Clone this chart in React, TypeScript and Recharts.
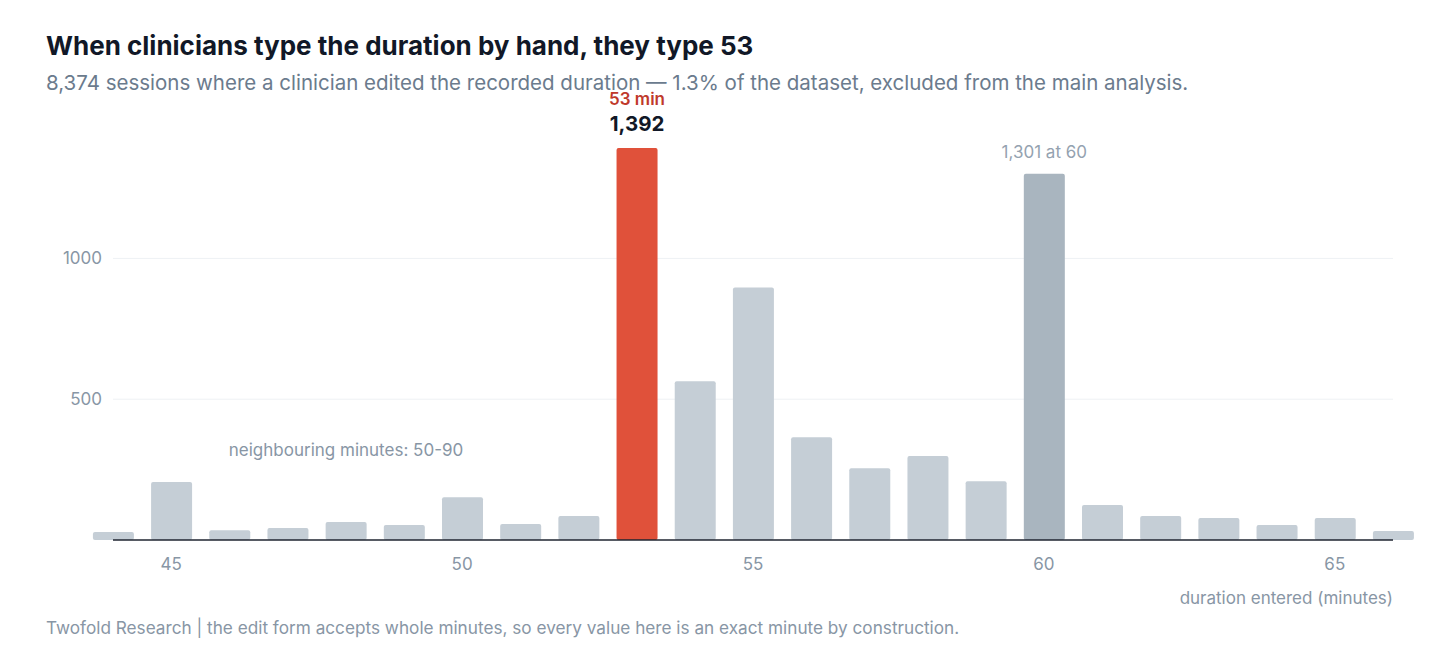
import { Bar, BarChart, CartesianGrid, Cell, XAxis, YAxis } from "recharts";

// minutes typed by hand, one bar per whole minute
const minutes = [44, 45, 46, 47, 48, 49, 50, 51, 52, 53, 54, 55, 56, 57, 58, 59, 60, 61, 62, 63, 64, 65, 66];
const sessions = [28, 206, 35, 43, 64, 53, 152, 57, 85, 1392, 564, 897, 365, 255, 298, 209, 1301, 124, 85, 78, 53, 78, 32];
const xTicks = [45, 50, 55, 60, 65];
const yTicks = [500, 1000];

const PEAK = 53;
const ROUND = 60;

const FONT = "Inter, 'Noto Sans', sans-serif";
const GREY_TEXT = "#8896a5";

const chartData = minutes.map((m, i) => ({ minute: m, count: sessions[i] }));

function barColor(m: number) {
  if (m === PEAK) return "#e0513a";
  if (m === ROUND) return "#a9b5bf";
  return "#c5ced6";
}

function BarLabel(props: any) {
  const { x, y, width, index } = props;
  const d = chartData[index];
  const cx = x + width / 2;
  if (d.minute === PEAK) {
    return (
      <g fontFamily={FONT} textAnchor="middle">
        <text x={cx} y={y - 43} fontSize={17} fontWeight={600} fill="#c0392b">
          {`${d.minute} min`}
        </text>
        <text x={cx} y={y - 17} fontSize={20.5} fontWeight={700} fill="#111827">
          {d.count.toLocaleString("en-US")}
        </text>
      </g>
    );
  }
  if (d.minute === ROUND) {
    return (
      <text x={cx} y={y - 16} fontFamily={FONT} fontSize={17} textAnchor="middle" fill="#94a2b0">
        {`${d.count.toLocaleString("en-US")} at ${d.minute}`}
      </text>
    );
  }
  return null;
}

export default function App() {
  return (
    <div style={{ position: "absolute", left: 0, top: 0, width: 1440, height: 655, background: "#fff", fontFamily: FONT }}>
      <div style={{ position: "absolute", left: 46, top: 30, fontSize: 26, fontWeight: 700, color: "#111827", whiteSpace: "nowrap" }}>
        When clinicians type the duration by hand, they type 53
      </div>
      <div style={{ position: "absolute", left: 46, top: 70, fontSize: 20.5, color: "#6b7b8d", whiteSpace: "nowrap" }}>
        8,374 sessions where a clinician edited the recorded duration — 1.3% of the dataset, excluded from the main analysis.
      </div>

      <div style={{ position: "absolute", left: 0, top: 0 }}>
        <BarChart width={1440} height={655} data={chartData} margin={{ top: 148, right: 47, bottom: 85, left: 53 }}>
          <CartesianGrid vertical={false} stroke="#eef1f4" horizontalValues={yTicks} />
          <XAxis
            dataKey="minute"
            type="number"
            domain={[44, 66]}
            ticks={xTicks}
            tickLine={false}
            axisLine={{ stroke: "#1f2430", strokeWidth: 1.5 }}
            tickMargin={12}
            tick={{ fontSize: 17, fill: GREY_TEXT, fontFamily: FONT }}
          />
          <YAxis
            width={60}
            domain={[0, "dataMax"]}
            ticks={yTicks}
            tickLine={false}
            axisLine={false}
            tickMargin={5}
            tick={{ fontSize: 17, fill: GREY_TEXT, fontFamily: FONT }}
          />
          <Bar dataKey="count" barSize={41} radius={2} isAnimationActive={false} label={<BarLabel />}>
            {chartData.map((d) => (
              <Cell key={d.minute} fill={barColor(d.minute)} />
            ))}
          </Bar>
        </BarChart>
      </div>

      <div style={{ position: "absolute", left: 200, top: 440, width: 292, textAlign: "center", fontSize: 17, color: GREY_TEXT, whiteSpace: "nowrap" }}>
        neighbouring minutes: 50-90
      </div>
      <div style={{ position: "absolute", right: 47, top: 588, fontSize: 17, color: GREY_TEXT, whiteSpace: "nowrap" }}>
        duration entered (minutes)
      </div>
      <div style={{ position: "absolute", left: 46, top: 617, fontSize: 17.2, color: GREY_TEXT, whiteSpace: "nowrap" }}>
        Twofold Research | the edit form accepts whole minutes, so every value here is an exact minute by construction.
      </div>
    </div>
  );
}
